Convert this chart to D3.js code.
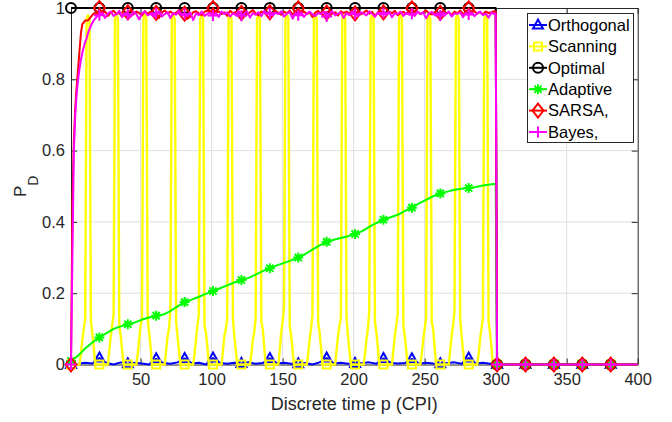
<!DOCTYPE html>
<html>
<head>
<meta charset="utf-8">
<script src="https://d3js.org/d3.v7.min.js"></script>
<style>
    body { margin: 0; background: #fff; }
    svg { display: block; font-family: "Liberation Sans", Arial, sans-serif; }
</style>
</head>
<body>
<div class="chart"></div>
<script>
    // Sandbox

    var w = 672;
    var h = 422;
    var margin = {left: 71, right: 34.3, top: 8, bottom: 57.5};
    var fontSize = 16.5;
    var textColor = '#262626';
    var gridColor = '#dfdfdf';

    var xTicks = [50, 100, 150, 200, 250, 300, 350, 400];
    var yTicks = [0, 0.2, 0.4, 0.6, 0.8, 1];
    var yTickLabels = ['0', '0.2', '0.4', '0.6', '0.8', '1'];
    var names = ['Orthogonal', 'Scanning', 'Optimal', 'Adaptive', 'SARSA,', 'Bayes,'];
    var colors = ['#0000ff', '#ffff00', '#000000', '#00ff00', '#ff0000', '#ff00ff'];
    var shapes = ['triangle', 'square', 'circle', 'star', 'diamond', 'plus'];

    // markers every 20 CPI
    var markerP = [1, 21, 41, 61, 81, 101, 121, 141, 161, 181, 201, 221, 241, 261, 281, 301, 321, 341, 361, 381];

    // after the target leaves (p > 300) every curve is 0
    var tailP = [301, 321, 341, 361, 381, 400];
    var tailV = [0, 0, 0, 0, 0, 0];

    // Optimal: p = 1, 21, ..., 281, 300
    var optimalP = [1, 21, 41, 61, 81, 101, 121, 141, 161, 181, 201, 221, 241, 261, 281, 300];
    var optimalV = [1, 1, 1, 1, 1, 1, 1, 1, 1, 1, 1, 1, 1, 1, 1, 1];

    // Orthogonal and Adaptive: p = 1, 6, 11, ..., 296, then 300
    var orthogonalV = [
        0, .002, .005, .003,   .018, .004, 0, .006,      .002, .005, .003, 0,
        .016, .004, .002, .006, .017, .003, .005, 0,     .018, .004, .002, .005,
        .003, .006, .002, .004, .017, .003, .005, .002,  .002, .004, 0, .006,
        .018, .003, .005, .002, .003, .004, .006, .002,  .017, .005, .003, .004,
        .016, .002, .005, .003, .002, .004, .006, .002,  .018, .003, .005, .002,
        .004
    ];
    var adaptiveV = [
        .01, .025, .045, .062,   .076, .088, .1, .107,     .113, .118, .126, .132,
        .137, .14, .15, .163,    .175, .182, .19, .198,    .206, .214, .222, .23,
        .237, .243, .252, .262,  .27, .278, .285, .292,    .3, .31, .322, .334,
        .344, .35, .355, .36,    .366, .374, .386, .397,   .406, .413, .42, .43,
        .44, .452, .462, .472,   .48, .485, .49, .493,     .495, .498, .502, .505,
        .507
    ];

    // SARSA and Bayes: p = 1..20, then p = 21, 23, ..., 299, then 300
    var sarsaHead = [0, .45, .63, .72, .78, .83, .88, .93, .955, .96, .965, .965, .965, .97, .975, .98, .985, .985, .98, .985];
    var sarsaBody = [
        1.0, .985, .99, .978, .988, .992, .983, .987, .975, .986,
        .988, .993, .982, .99, .986, .979, .991, .984, .989, .981,
        .986, .972, .988, .993, .985, .99, .982, .987, .994, .983,
        .984, .97, .976, .988, .991, .985, .98, .989, .993, .986,
        1.0, .987, .99, .983, .988, .978, .992, .985, .989, .984,
        .986, .991, .982, .988, .994, .985, .979, .99, .987, .983,
        .988, .984, .992, .986, .981, .99, .985, .993, .982, .988,
        .999, .986, .99, .983, .988, .975, .987, .992, .984, .989,
        .987, .993, .984, .988, .979, .991, .986, .99, .983, .988,
        .985, .99, .982, .987, .993, .984, .989, .978, .986, .991,
        .988, .983, .99, .985, .992, .98, .987, .989, .984, .99,
        .999, .986, .99, .983, .988, .993, .985, .982, .989, .986,
        .986, .991, .984, .988, .98, .99, .985, .993, .983, .988,
        .999, .987, .991, .984, .989, .982, .99, .986, .988, .991,
        .99
    ];
    var bayesHead = [0, .3, .6, .7, .76, .8, .83, .855, .875, .89, .905, .915, .93, .94, .95, .958, .965, .97, .975, .978];
    var bayesBody = [
        .98, .987, .972, .985, .99, .978, .983, .992, .975, .986,
        .981, .975, .989, .983, .968, .985, .991, .979, .984, .977,
        .985, .99, .976, .983, .988, .972, .986, .981, .992, .979,
        .983, .977, .988, .966, .985, .98, .99, .978, .984, .987,
        .979, .986, .975, .99, .983, .988, .976, .985, .98, .991,
        .978, .984, .99, .973, .986, .981, .988, .977, .992, .982,
        .985, .979, .987, .983, .991, .976, .984, .989, .97, .986,
        .98, .988, .975, .984, .99, .982, .977, .986, .983, .989,
        .976, .985, .991, .979, .984, .988, .972, .986, .98, .99,
        .983, .977, .988, .985, .979, .991, .984, .975, .987, .982,
        .986, .98, .989, .974, .985, .983, .99, .978, .986, .981,
        .984, .978, .99, .983, .987, .971, .985, .989, .98, .986,
        .979, .987, .982, .99, .976, .985, .983, .988, .974, .986,
        .982, .988, .977, .985, .99, .98, .984, .973, .987, .983,
        .985
    ];

    // Scanning: [p, PD] one row per scan period
    var scanning = [
        [1, 0], [7, 0], [8, .03], [9, .07], [10, .1], [11, .13], [12, .97], [13, .98], [14, .97], [15, .12], [16, .09], [17, .05], [18, 0],
        [21, 0], [27, 0], [28, .04], [29, .08], [30, .11], [31, .14], [32, .97], [33, .98], [34, .97], [35, .11], [36, .08], [37, .04], [38, 0],
        [41, 0], [47, 0], [48, .03], [49, .07], [50, .11], [51, .13], [52, .97], [53, .98], [54, .97], [55, .13], [56, .09], [57, .05], [58, 0],
        [61, 0], [67, 0], [68, .04], [69, .08], [70, .1], [71, .15], [72, .97], [73, .98], [74, .97], [75, .12], [76, .08], [77, .04], [78, 0],
        [81, 0], [87, 0], [88, .03], [89, .07], [90, .11], [91, .14], [92, .97], [93, .98], [94, .97], [95, .11], [96, .09], [97, .05], [98, 0],
        [101, 0], [107, 0], [108, .04], [109, .08], [110, .1], [111, .13], [112, .97], [113, .98], [114, .97], [115, .13], [116, .08], [117, .04], [118, 0],
        [121, 0], [127, 0], [128, .03], [129, .07], [130, .09], [131, .13], [132, .97], [133, .98], [134, .97], [135, .12], [136, .1], [137, .05], [138, 0],
        [141, 0], [147, 0], [148, .04], [149, .09], [150, .12], [151, .16], [152, .97], [153, .98], [154, .97], [155, .11], [156, .08], [157, .04], [158, 0],
        [161, 0], [167, 0], [168, .03], [169, .07], [170, .1], [171, .14], [172, .97], [173, .98], [174, .97], [175, .12], [176, .09], [177, .05], [178, 0],
        [181, 0], [187, 0], [188, .04], [189, .08], [190, .11], [191, .13], [192, .97], [193, .98], [194, .97], [195, .13], [196, .08], [197, .04], [198, 0],
        [201, 0], [207, 0], [208, .03], [209, .07], [210, .1], [211, .15], [212, .97], [213, .98], [214, .97], [215, .12], [216, .09], [217, .05], [218, 0],
        [221, 0], [227, 0], [228, .04], [229, .08], [230, .11], [231, .14], [232, .97], [233, .98], [234, .97], [235, .11], [236, .08], [237, .04], [238, 0],
        [241, 0], [247, 0], [248, .03], [249, .07], [250, .1], [251, .13], [252, .97], [253, .98], [254, .97], [255, .12], [256, .1], [257, .05], [258, 0],
        [261, 0], [267, 0], [268, .04], [269, .08], [270, .11], [271, .15], [272, .97], [273, .98], [274, .97], [275, .13], [276, .08], [277, .04], [278, 0],
        [281, 0], [287, 0], [288, .03], [289, .07], [290, .1], [291, .13], [292, .97], [293, .98], [294, .97], [295, .12], [296, .09], [297, .05], [298, 0]
    ];


    // Build point lists [p, value]

    function zip(ps, vs) {
        return ps.map(function (p, i) { return [p, vs[i]]; });
    }
    var tail = zip(tailP, tailV);
    var step5P = d3.range(1, 300, 5).concat([300]);
    var step2P = d3.range(1, 21).concat(d3.range(21, 300, 2)).concat([300]);

    var seriesData = [
        zip(step5P, orthogonalV).concat(tail),
        scanning.concat(tail),
        zip(optimalP, optimalV).concat(tail),
        zip(step5P, adaptiveV).concat(tail),
        zip(step2P, sarsaHead.concat(sarsaBody)).concat(tail),
        zip(step2P, bayesHead.concat(bayesBody)).concat(tail)
    ];

    var markerPaths = {
        triangle: 'M0,-5.5L5,3.5L-5,3.5Z',
        square: 'M-4,-4H4V4H-4Z',
        circle: 'M5,0A5,5 0 1,1 -5,0A5,5 0 1,1 5,0Z',
        star: 'M-5,0H5M0,-5V5M-3.6,-3.6L3.6,3.6M-3.6,3.6L3.6,-3.6',
        diamond: 'M0,-7L5.5,0L0,7L-5.5,0Z',
        plus: 'M-5.5,0H5.5M0,-5.5V5.5'
    };


    // Chart

    var svg = d3.select('.chart')
        .append('svg')
            .attr('width', w)
            .attr('height', h);

    svg.append('rect')
        .attr('width', w)
        .attr('height', h)
        .attr('fill', '#fff');

    var x = d3.scaleLinear().domain([1, 400]).range([margin.left, w - margin.right]);
    var y = d3.scaleLinear().domain([0, 1]).range([h - margin.bottom, margin.top]);

    // Add grid
    svg.append('g').selectAll('line.gx')
        .data(xTicks.slice(0, -1))
        .enter()
        .append('line')
            .attr('x1', function (d) { return x(d); })
            .attr('x2', function (d) { return x(d); })
            .attr('y1', y(0))
            .attr('y2', y(1))
            .attr('stroke', gridColor);
    svg.append('g').selectAll('line.gy')
        .data(yTicks.slice(1, -1))
        .enter()
        .append('line')
            .attr('x1', x(1))
            .attr('x2', x(400))
            .attr('y1', function (d) { return y(d); })
            .attr('y2', function (d) { return y(d); })
            .attr('stroke', gridColor);

    // Add axes (ticks inside, box on)
    function styleAxis(g) {
        g.attr('font-family', null).attr('font-size', fontSize);
        g.selectAll('path, line').attr('stroke', textColor);
        g.selectAll('text').attr('fill', textColor);
    }
    svg.append('g')
        .attr('transform', 'translate(0,' + y(0) + ')')
        .call(d3.axisBottom(x).tickValues(xTicks).tickSizeInner(-6).tickSizeOuter(0).tickPadding(9))
        .call(styleAxis);
    svg.append('g')
        .attr('transform', 'translate(0,' + y(1) + ')')
        .call(d3.axisTop(x).tickValues(xTicks).tickSizeInner(-6).tickSizeOuter(0).tickFormat(''))
        .call(styleAxis);
    svg.append('g')
        .attr('transform', 'translate(' + x(1) + ',0)')
        .call(d3.axisLeft(y).tickValues(yTicks).tickSizeInner(-6).tickSizeOuter(0).tickPadding(6)
            .tickFormat(function (d, i) { return yTickLabels[i]; }))
        .call(styleAxis);
    svg.append('g')
        .attr('transform', 'translate(' + x(400) + ',0)')
        .call(d3.axisRight(y).tickValues(yTicks).tickSizeInner(-6).tickSizeOuter(0).tickFormat(''))
        .call(styleAxis);

    // Add series (lines + markers), in plot order
    var line = d3.line()
        .x(function (d) { return x(d[0]); })
        .y(function (d) { return y(d[1]); });

    seriesData.forEach(function (data, i) {
        var g = svg.append('g');
        g.append('path')
            .datum(data)
            .attr('d', line)
            .attr('fill', 'none')
            .attr('stroke', colors[i])
            .attr('stroke-width', i === 1 ? 2.4 : 2)
            .attr('stroke-linejoin', 'round');
        g.selectAll('path.m')
            .data(data.filter(function (d) { return markerP.indexOf(d[0]) >= 0; }))
            .enter()
            .append('path')
                .attr('class', 'm')
                .attr('d', markerPaths[shapes[i]])
                .attr('transform', function (d) { return 'translate(' + x(d[0]) + ',' + y(d[1]) + ')'; })
                .attr('fill', 'none')
                .attr('stroke', colors[i])
                .attr('stroke-width', 2);
    });

    // Add axis labels
    svg.append('text')
        .text('Discrete time p (CPI)')
        .attr('x', (x(1) + x(400)) / 2)
        .attr('y', 410)
        .attr('text-anchor', 'middle')
        .attr('font-size', 18)
        .attr('fill', textColor);

    var yLabel = svg.append('text')
        .attr('transform', 'translate(26,197) rotate(-90)')
        .attr('font-size', 17)
        .attr('fill', textColor);
    yLabel.append('tspan').text('P');
    yLabel.append('tspan').text('D').attr('font-size', 14).attr('dy', 12);

    // Add legend
    var legend = svg.append('g');
    legend.append('rect')
        .attr('x', 527.5)
        .attr('y', 13.5)
        .attr('width', 106)
        .attr('height', 129)
        .attr('fill', '#fff')
        .attr('stroke', textColor);
    names.forEach(function (name, i) {
        var ly = 25 + i * 21.4;
        legend.append('line')
            .attr('x1', 529).attr('x2', 547)
            .attr('y1', ly).attr('y2', ly)
            .attr('stroke', colors[i])
            .attr('stroke-width', 2);
        legend.append('path')
            .attr('d', markerPaths[shapes[i]])
            .attr('transform', 'translate(538,' + ly + ')')
            .attr('fill', 'none')
            .attr('stroke', colors[i])
            .attr('stroke-width', 2);
        legend.append('text')
            .text(name)
            .attr('x', 548)
            .attr('y', ly)
            .attr('dy', '0.35em')
            .attr('font-size', fontSize)
            .attr('fill', '#000');
    });
</script>
</body>
</html>
